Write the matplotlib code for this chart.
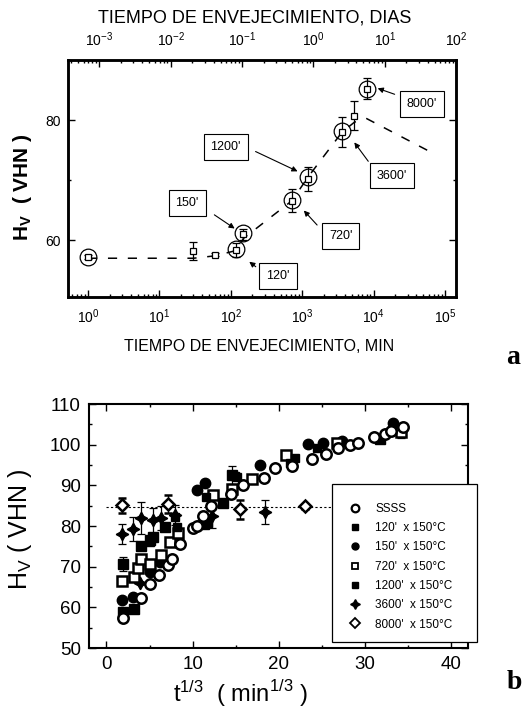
import numpy as np
import matplotlib
matplotlib.use('Agg')
import matplotlib.pyplot as plt
from matplotlib.ticker import MultipleLocator, LogLocator, NullFormatter
from matplotlib.patches import Rectangle
from matplotlib.lines import Line2D

plt.rcParams['font.family'] = ['Liberation Sans', 'DejaVu Sans']

# --- (a) dureza vs tiempo de envejecimiento ---
circ_t = [1, 120, 150, 720, 1200, 3600, 8000]
circ_hv = [57.2, 58.6, 61.2, 66.7, 70.6, 78.2, 85.3]

sq_t = [1, 30, 60, 120, 150, 720, 1200, 3600, 5400, 8000]
sq_hv = [57.2, 58.2, 57.6, 58.4, 61.0, 66.6, 70.3, 78.0, 80.8, 85.3]
sq_err = [0.3, 1.5, 0.3, 1.2, 0.9, 1.9, 2.0, 2.5, 2.4, 1.8]

line_t = [1, 30, 60, 120, 150, 720, 1200, 3600, 5400, 8000, 57000]
line_hv = [57.0, 57.0, 57.4, 58.3, 60.3, 66.6, 70.5, 78.0, 79.7, 80.3, 75.0]

ann_text = ["150'", "120'", "720'", "1200'", "3600'", "8000'"]
ann_box = [(24.4, 66.2), (457, 54.0), (3470, 60.7), (85, 75.5), (18000, 70.8), (47600, 82.7)]
ann_tail = [(54.6, 64.5), (240, 55.3), (1720, 62.2), (205, 75.0), (8900, 72.8), (21500, 84.2)]
ann_head = [(122, 61.7), (169, 56.7), (993, 65.3), (935, 71.3), (5100, 76.7), (10500, 85.5)]

# --- (b) dureza vs t^(1/3) ---
ssss_x = [1.9, 4.0, 5.0, 6.1, 7.2, 7.6, 8.5, 10.0, 10.5, 11.2, 12.1, 14.5, 15.9, 18.3, 19.6, 21.5,
          23.8, 25.5, 26.9, 28.3, 29.2, 31.0, 32.3, 33.0, 34.4]
ssss_y = [57.5, 62.4, 65.7, 67.9, 70.3, 71.8, 75.7, 79.6, 80.0, 82.6, 85.0, 88.0, 90.2, 91.8, 94.3, 94.9,
          96.4, 97.8, 99.2, 100.0, 100.4, 101.9, 102.7, 103.3, 104.3]

m120_x = [1.9, 3.2, 1.9, 4.0, 5.0, 5.4, 6.8, 11.3, 11.7, 13.5, 14.6, 31.8]
m120_y = [58.9, 59.7, 70.7, 75.2, 76.5, 77.3, 79.8, 80.6, 81.0, 85.7, 92.5, 101.3]
m120_e = [0, 0, 1.8, 0, 0, 0, 0, 0, 0, 0, 2.2, 0]

m150_x = [1.8, 3.1, 5.0, 6.2, 10.5, 11.4, 17.8, 23.4, 25.1, 27.3, 33.2]
m150_y = [61.9, 62.5, 68.7, 71.1, 88.8, 90.5, 95.0, 100.2, 100.5, 101.0, 105.4]

m720_x = [1.85, 3.2, 3.65, 4.0, 5.1, 6.3, 7.4, 8.35, 12.4, 14.6, 16.9, 20.8, 26.8, 34.2]
m720_y = [66.5, 67.5, 69.7, 71.9, 70.7, 72.8, 76.2, 78.4, 87.7, 89.2, 91.6, 97.4, 100.5, 103.1]
m720_e = [0, 0, 0, 0, 0, 0, 0, 0, 0, 0, 0, 0, 0, 1.5]

m1200_x = [5.1, 7.9, 8.2, 11.5, 14.9, 15.2, 21.3, 21.9, 24.4]
m1200_y = [76.0, 82.2, 79.7, 87.2, 92.3, 92.0, 95.6, 96.8, 99.2]

m3600_x = [1.8, 3.1, 4.0, 5.4, 6.3, 7.9, 3.9, 12.3, 18.4]
m3600_y = [78.1, 79.3, 82.0, 81.4, 82.0, 82.8, 66.0, 82.5, 83.5]
m3600_e = [2.5, 2.9, 3.9, 3.0, 3.0, 2.5, 0, 3.0, 2.9]

m8000_x = [1.8, 7.2, 15.5, 23.0]
m8000_y = [85.1, 85.5, 84.1, 84.9]
m8000_e = [1.8, 2.2, 2.4, 0.6]

ref_hv = 84.8

leg_labels = ['SSSS', "120'  x 150°C", "150'  x 150°C", "720'  x 150°C",
              "1200'  x 150°C", "3600'  x 150°C", "8000'  x 150°C"]

MIN_PER_DAY = 1440.0

fig = plt.figure(figsize=(5.28, 7.11), dpi=100)

# ---------------- panel a ----------------
ax1 = fig.add_axes([0.129, 0.582, 0.735, 0.333])
ax1.set_xscale('log')
ax1.plot(line_t, line_hv, ls=(0, (6, 7)), color='k', lw=1.1, zorder=1)
ax1.errorbar(sq_t, sq_hv, yerr=sq_err, fmt='s', ms=4.5, mfc='white', mec='k', mew=0.9,
             ecolor='k', elinewidth=0.9, capsize=3, capthick=0.9, zorder=3)
ax1.plot(circ_t, circ_hv, 'o', ms=12, mfc='none', mec='k', mew=0.9, zorder=4)

for txt, b, t, h in zip(ann_text, ann_box, ann_tail, ann_head):
    ax1.text(b[0], b[1], txt, ha='center', va='center', fontsize=9,
             bbox=dict(boxstyle='square,pad=0.55', fc='white', ec='k', lw=0.8))
    ax1.annotate('', xy=h, xytext=t,
                 arrowprops=dict(arrowstyle='-|>', color='k', lw=0.8, mutation_scale=8))

xmin, xmax = 10 ** -0.28, 100 * MIN_PER_DAY
ax1.set_xlim(xmin, xmax)
ax1.set_ylim(50.5, 90)
ax1.yaxis.set_major_locator(MultipleLocator(20))
ax1.yaxis.set_minor_locator(MultipleLocator(10))
ax1.xaxis.set_major_locator(LogLocator(base=10, numticks=10))
ax1.xaxis.set_minor_locator(LogLocator(base=10, subs=np.arange(2, 10), numticks=10))
ax1.xaxis.set_minor_formatter(NullFormatter())
ax1.tick_params(which='both', direction='in', right=True, labelsize=10, width=1)
ax1.tick_params(which='major', length=5)
ax1.tick_params(which='minor', length=2.5)
ax1.tick_params(axis='x', pad=7)
ax1.tick_params(axis='y', pad=5)
for s in ax1.spines.values():
    s.set_linewidth(1.8)

top = ax1.twiny()
top.set_xscale('log')
top.set_xlim(xmin / MIN_PER_DAY, xmax / MIN_PER_DAY)
top.xaxis.set_major_locator(LogLocator(base=10, numticks=10))
top.xaxis.set_minor_locator(LogLocator(base=10, subs=np.arange(2, 10), numticks=10))
top.xaxis.set_minor_formatter(NullFormatter())
top.tick_params(which='both', direction='in', labelsize=10, width=1, pad=8)
top.tick_params(which='major', length=5)
top.tick_params(which='minor', length=2.5)
for s in top.spines.values():
    s.set_linewidth(1.8)

fig.text(0.483, 0.975, 'TIEMPO DE ENVEJECIMIENTO, DIAS', ha='center', va='center', fontsize=13)
fig.text(0.49, 0.512, 'TIEMPO DE ENVEJECIMIENTO, MIN', ha='center', va='center', fontsize=11.5)
fig.text(0.043, 0.737, r'H$_\mathregular{V}$  ( VHN )', rotation=90, ha='center', va='center',
         fontsize=15, fontweight='bold')
fig.text(0.972, 0.497, 'a', ha='center', va='center', fontsize=20, fontweight='bold',
         family='Liberation Serif')

# ---------------- panel b ----------------
ax2 = fig.add_axes([0.169, 0.0886, 0.718, 0.343])
ax2.plot([0, 34], [ref_hv, ref_hv], ls=(0, (2, 2)), color='k', lw=0.8, zorder=1)

ebk = dict(ecolor='k', elinewidth=0.9, capsize=3, capthick=0.9, ls='none', zorder=3)
ax2.errorbar(m8000_x, m8000_y, yerr=m8000_e, fmt='D', ms=6.5, mfc='white', mec='k', mew=1.8, **ebk)
ax2.errorbar(m3600_x, m3600_y, yerr=m3600_e, fmt='none', **ebk)
ax2.plot(m3600_x, m3600_y, marker=(4, 1, 0), ms=9, color='k', ls='none', zorder=4)
ax2.errorbar(m120_x, m120_y, yerr=m120_e, fmt='none', **ebk)
ax2.plot(m120_x, m120_y, 's', ms=7, color='k', zorder=4)
ax2.plot(m150_x, m150_y, 'o', ms=7.5, color='k', zorder=4)
ax2.errorbar(m720_x, m720_y, yerr=m720_e, fmt='none', **ebk)
ax2.plot(m720_x, m720_y, 's', ms=7, mfc='white', mec='k', mew=1.8, ls='none', zorder=5)
ax2.plot(m1200_x, m1200_y, 's', ms=6, color='k', zorder=5)
ax2.plot(ssss_x, ssss_y, 'o', ms=7.5, mfc='white', mec='k', mew=1.8, zorder=6)

ax2.set_xlim(-2, 42)
ax2.set_ylim(50, 110)
ax2.xaxis.set_major_locator(MultipleLocator(10))
ax2.xaxis.set_minor_locator(MultipleLocator(5))
ax2.yaxis.set_major_locator(MultipleLocator(10))
ax2.yaxis.set_minor_locator(MultipleLocator(5))
ax2.tick_params(which='both', direction='in', top=True, right=True, labelsize=13.5, width=1, pad=6)
ax2.tick_params(which='major', length=5)
ax2.tick_params(which='minor', length=2.5)
for s in ax2.spines.values():
    s.set_linewidth(1.5)

# leyenda
handles = [
    Line2D([], [], marker='o', ls='none', ms=5.5, mfc='white', mec='k', mew=1.6),
    Line2D([], [], marker='s', ls='none', ms=5, color='k'),
    Line2D([], [], marker='o', ls='none', ms=5, color='k'),
    Line2D([], [], marker='s', ls='none', ms=5, mfc='white', mec='k', mew=1.3),
    Line2D([], [], marker='s', ls='none', ms=4.5, color='k'),
    Line2D([], [], marker=(4, 1, 0), ls='none', ms=7, color='k'),
    Line2D([], [], marker='D', ls='none', ms=5, mfc='white', mec='k', mew=1.3),
]
ax2.add_patch(Rectangle((0.641, 0.025), 0.383, 0.647, transform=ax2.transAxes, fc='white',
                        ec='k', lw=0.9, clip_on=False, zorder=7))
leg = ax2.legend(handles, leg_labels, loc='upper left', bbox_to_anchor=(0.67, 0.62),
                 frameon=False, fontsize=8.5, labelspacing=0.62, handletextpad=1.2,
                 handlelength=1.0, borderpad=0)
leg.set_zorder(8)

fig.text(0.456, 0.025, r'$\mathregular{t^{1/3}}$  ( min$^\mathregular{1/3}$ )', ha='center',
         va='center', fontsize=17)
fig.text(0.037, 0.255, r'H$_\mathregular{V}$ ( VHN )', rotation=90, ha='center', va='center',
         fontsize=18)
fig.text(0.975, 0.04, 'b', ha='center', va='center', fontsize=20, fontweight='bold',
         family='Liberation Serif')

fig.savefig('out.png', dpi=100)
